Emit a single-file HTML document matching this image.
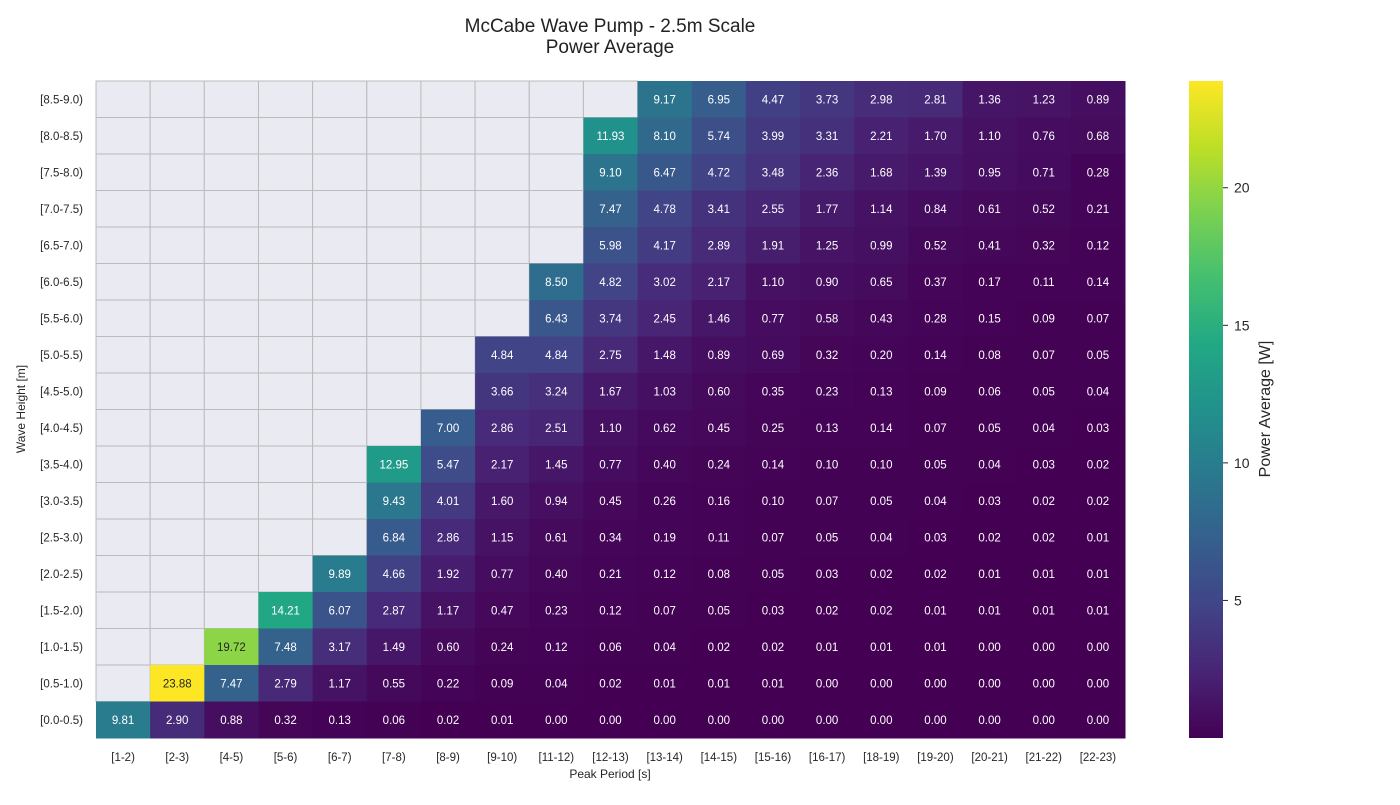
<!DOCTYPE html>
<html><head><meta charset="utf-8"><style>
body{margin:0;background:#fff;font-family:"Liberation Sans",sans-serif}
svg text{font-family:"Liberation Sans",sans-serif}
</style></head><body>
<svg id="c" width="1400" height="800"></svg>
<script>
const xLabels=["[1-2)","[2-3)","[4-5)","[5-6)","[6-7)","[7-8)","[8-9)","[9-10)","[11-12)","[12-13)","[13-14)","[14-15)","[15-16)","[16-17)","[18-19)","[19-20)","[20-21)","[21-22)","[22-23)"];
const yLabels=["[8.5-9.0)","[8.0-8.5)","[7.5-8.0)","[7.0-7.5)","[6.5-7.0)","[6.0-6.5)","[5.5-6.0)","[5.0-5.5)","[4.5-5.0)","[4.0-4.5)","[3.5-4.0)","[3.0-3.5)","[2.5-3.0)","[2.0-2.5)","[1.5-2.0)","[1.0-1.5)","[0.5-1.0)","[0.0-0.5)"];
const N=null;
const values=[
[N,N,N,N,N,N,N,N,N,N,9.17,6.95,4.47,3.73,2.98,2.81,1.36,1.23,0.89],
[N,N,N,N,N,N,N,N,N,11.93,8.10,5.74,3.99,3.31,2.21,1.70,1.10,0.76,0.68],
[N,N,N,N,N,N,N,N,N,9.10,6.47,4.72,3.48,2.36,1.68,1.39,0.95,0.71,0.28],
[N,N,N,N,N,N,N,N,N,7.47,4.78,3.41,2.55,1.77,1.14,0.84,0.61,0.52,0.21],
[N,N,N,N,N,N,N,N,N,5.98,4.17,2.89,1.91,1.25,0.99,0.52,0.41,0.32,0.12],
[N,N,N,N,N,N,N,N,8.50,4.82,3.02,2.17,1.10,0.90,0.65,0.37,0.17,0.11,0.14],
[N,N,N,N,N,N,N,N,6.43,3.74,2.45,1.46,0.77,0.58,0.43,0.28,0.15,0.09,0.07],
[N,N,N,N,N,N,N,4.84,4.84,2.75,1.48,0.89,0.69,0.32,0.20,0.14,0.08,0.07,0.05],
[N,N,N,N,N,N,N,3.66,3.24,1.67,1.03,0.60,0.35,0.23,0.13,0.09,0.06,0.05,0.04],
[N,N,N,N,N,N,7.00,2.86,2.51,1.10,0.62,0.45,0.25,0.13,0.14,0.07,0.05,0.04,0.03],
[N,N,N,N,N,12.95,5.47,2.17,1.45,0.77,0.40,0.24,0.14,0.10,0.10,0.05,0.04,0.03,0.02],
[N,N,N,N,N,9.43,4.01,1.60,0.94,0.45,0.26,0.16,0.10,0.07,0.05,0.04,0.03,0.02,0.02],
[N,N,N,N,N,6.84,2.86,1.15,0.61,0.34,0.19,0.11,0.07,0.05,0.04,0.03,0.02,0.02,0.01],
[N,N,N,N,9.89,4.66,1.92,0.77,0.40,0.21,0.12,0.08,0.05,0.03,0.02,0.02,0.01,0.01,0.01],
[N,N,N,14.21,6.07,2.87,1.17,0.47,0.23,0.12,0.07,0.05,0.03,0.02,0.02,0.01,0.01,0.01,0.01],
[N,N,19.72,7.48,3.17,1.49,0.60,0.24,0.12,0.06,0.04,0.02,0.02,0.01,0.01,0.01,0.00,0.00,0.00],
[N,23.88,7.47,2.79,1.17,0.55,0.22,0.09,0.04,0.02,0.01,0.01,0.01,0.00,0.00,0.00,0.00,0.00,0.00],
[9.81,2.90,0.88,0.32,0.13,0.06,0.02,0.01,0.00,0.00,0.00,0.00,0.00,0.00,0.00,0.00,0.00,0.00,0.00]
];
const cbTicks=[5,10,15,20];

const svg=document.getElementById('c');
const NS="http://www.w3.org/2000/svg";
function mk(t,a,p){const e=document.createElementNS(NS,t);for(const k in a)e.setAttribute(k,a[k]);(p||svg).appendChild(e);return e;}
const X0=96,Y0=81,W=1029,H=657;
const cw=W/xLabels.length,ch=H/yLabels.length;
let vmin=Infinity,vmax=-Infinity;
values.forEach(r=>r.forEach(v=>{if(v!==null){vmin=Math.min(vmin,v);vmax=Math.max(vmax,v);}}));
const stops=["#440154","#482475","#414487","#355f8d","#2a788e","#21918c","#22a884","#44bf70","#7ad151","#bddf26","#fde725"].map(h=>[parseInt(h.slice(1,3),16),parseInt(h.slice(3,5),16),parseInt(h.slice(5,7),16)]);
function cmap(v){let t=(v-vmin)/(vmax-vmin);t=Math.max(0,Math.min(1,t));const f=t*10,i=Math.min(9,Math.floor(f)),u=f-i;const a=stops[i],b=stops[i+1];return [0,1,2].map(k=>Math.round(a[k]+(b[k]-a[k])*u));}
function lum(c){const l=c.map(x=>{x/=255;return x<=0.03928?x/12.92:Math.pow((x+0.055)/1.055,2.4)});return 0.2126*l[0]+0.7152*l[1]+0.0722*l[2];}
const xs=i=>X0+i*cw, ys=j=>Y0+j*ch;

const title=mk('text',{x:610,y:32,'text-anchor':'middle','font-size':19,fill:'#222'});
title.textContent="McCabe Wave Pump - 2.5m Scale";


const t2=mk('text',{x:610,y:53,'text-anchor':'middle','font-size':19,fill:'#222'});
t2.textContent="Power Average";



values.forEach((row,j)=>row.forEach((v,i)=>{
  if(v===null){
    const r=mk('rect',{x:xs(i),y:ys(j),width:cw,height:ch,fill:'#eaeaf2',stroke:'#bbbbbb','stroke-width':1});
    
    
  }else{
    const c=cmap(v);
    const r=mk('rect',{x:xs(i),y:ys(j),width:cw+0.5,height:ch+0.5,fill:`rgb(${c})`});
    
    
    const t=mk('text',{x:xs(i)+cw/2,y:ys(j)+ch/2+4,'text-anchor':'middle','font-size':11.5,fill:lum(c)>0.408?'#262626':'#ffffff'});
    t.textContent=v.toFixed(2);
    
    
  }
}));
xLabels.forEach((l,i)=>{
  const t=mk('text',{x:xs(i)+cw/2,y:761,'text-anchor':'middle','font-size':11.5,fill:'#262626'});
  t.textContent=l;
  
  
});
yLabels.forEach((l,j)=>{
  const t=mk('text',{x:83,y:ys(j)+ch/2+4,'text-anchor':'end','font-size':11.5,fill:'#262626'});
  t.textContent=l;
  
  
});
const xt=mk('text',{x:610,y:778,'text-anchor':'middle','font-size':12,fill:'#262626'});
xt.textContent="Peak Period [s]";


const yt=mk('text',{x:0,y:0,'text-anchor':'middle','font-size':12,fill:'#262626',transform:'translate(25,409) rotate(-90)'});
yt.textContent="Wave Height [m]";



// colorbar
const CX=1189,CW=34;
const defs=mk('defs',{});
const g=mk('linearGradient',{id:'vg',x1:0,y1:1,x2:0,y2:0},defs);
stops.forEach((s,k)=>mk('stop',{offset:k/10,'stop-color':`rgb(${s})`},g));
const cb=mk('rect',{x:CX,y:Y0,width:CW,height:H,fill:'url(#vg)'});


const cy=v=>Y0+H-(v-vmin)/(vmax-vmin)*H;
cbTicks.forEach(v=>{
  mk('line',{x1:CX+CW,x2:CX+CW+5,y1:cy(v),y2:cy(v),stroke:'#262626'});
  const t=mk('text',{x:CX+CW+11,y:cy(v)+5,'font-size':14,fill:'#262626'});
  t.textContent=v;
  
  
});
const cl=mk('text',{x:0,y:0,'text-anchor':'middle','font-size':16,fill:'#262626',transform:`translate(1270,409) rotate(-90)`});
cl.textContent="Power Average [W]";


</script>
</body></html>
